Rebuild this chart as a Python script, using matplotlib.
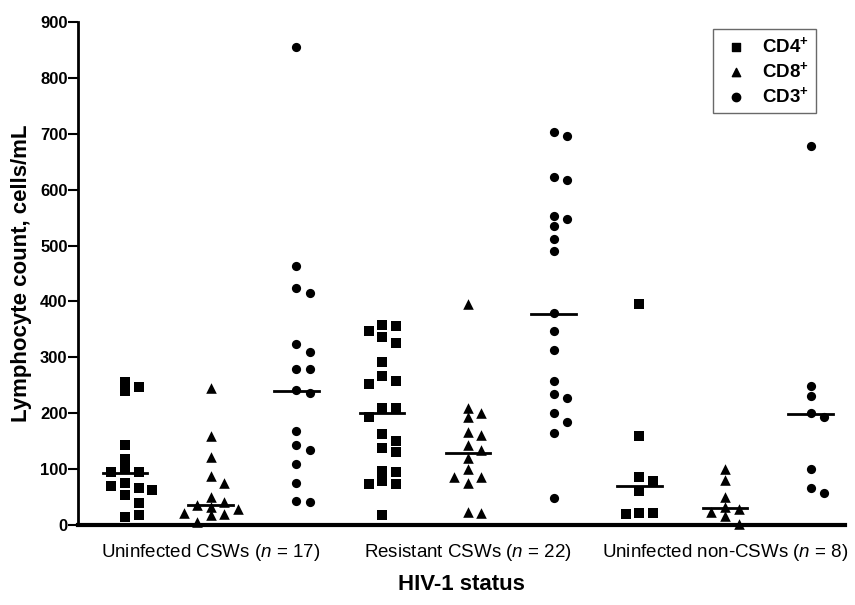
import numpy as np
import matplotlib
matplotlib.use("Agg")
import matplotlib.pyplot as plt

plt.rcParams['font.family'] = ['Liberation Sans', 'DejaVu Sans']
plt.rcParams['mathtext.fontset'] = 'custom'
plt.rcParams['mathtext.rm'] = 'Liberation Sans'
plt.rcParams['mathtext.it'] = 'Liberation Sans:italic'
plt.rcParams['mathtext.bf'] = 'Liberation Sans:bold'

# --------------------------------
# Data
# --------------------------------
groups = ["Uninfected CSWs ($\\it{n}$ = 17)",
          "Resistant CSWs ($\\it{n}$ = 22)",
          "Uninfected non-CSWs ($\\it{n}$ = 8)"]
cell_types = ["CD4", "CD8", "CD3"]

uninf_cd4 = [256, 240, 247, 144, 118, 100, 94, 94, 76, 67, 70, 63, 54, 39, 15, 18]
uninf_cd8 = [245, 159, 122, 88, 75, 50, 42, 33, 35, 29, 20, 21, 17, 5]
uninf_cd3 = [856, 464, 424, 416, 323, 310, 279, 279, 241, 237, 168, 144, 134,
             109, 75, 43, 41]

resist_cd4 = [358, 356, 348, 337, 326, 291, 267, 258, 252, 209, 209, 194, 162,
              150, 137, 130, 97, 94, 78, 73, 73, 18]
resist_cd8 = [395, 209, 200, 193, 167, 161, 143, 134, 119, 101, 86, 86, 76, 23, 21]
resist_cd3 = [703, 696, 623, 617, 552, 548, 535, 511, 491, 379, 348, 314, 258,
              234, 227, 200, 185, 165, 49]

noncsw_cd4 = [395, 160, 86, 79, 60, 21, 21, 19]
noncsw_cd8 = [101, 80, 50, 32, 29, 24, 16, 1]
noncsw_cd3 = [679, 249, 231, 201, 193, 101, 67, 58]

medians = [93, 36, 240, 201, 128, 378, 70, 31, 199]

series = [uninf_cd4, uninf_cd8, uninf_cd3,
          resist_cd4, resist_cd8, resist_cd3,
          noncsw_cd4, noncsw_cd8, noncsw_cd3]
markers = ['s', '^', 'o'] * 3


def swarm(values, gap=16.0, step=0.158):
    # greedy column placement: centre, right, left, ...
    slots = [0, 1, -1, 2, -2]
    placed = []
    offs = []
    for v in values:
        for s in slots:
            if all(not (ps == s and abs(pv - v) < gap) for pv, ps in placed):
                break
        placed.append((v, s))
        offs.append(s * step)
    return np.array(offs)


fig = plt.figure(figsize=(8.55, 6.05), dpi=100)
ax = fig.add_axes([78 / 855, 1 - 525 / 605, 767 / 855, 503 / 605])

for i, (vals, mk) in enumerate(zip(series, markers)):
    x = i + swarm(vals)
    size = {'o': 44, 's': 46, '^': 58}[mk]
    ax.scatter(x, vals, marker=mk, s=size, color='black', linewidths=0,
               zorder=3, clip_on=False)
    ax.plot([i - 0.26, i + 0.26], [medians[i], medians[i]],
            color='black', linewidth=2, zorder=4)

# legend handles
for mk, name in zip(['s', '^', 'o'], cell_types):
    ax.scatter([], [], marker=mk, s=36, color='black',
               label=name + '$^{\\mathbf{+}}$')

leg = ax.legend(loc='upper right', bbox_to_anchor=(0.975, 1.005),
                prop={'weight': 'bold', 'size': 13.5},
                frameon=True, fancybox=False, handletextpad=0.6,
                borderpad=0.4, labelspacing=0.25, handlelength=1.6)
leg.get_frame().set_edgecolor('#444444')
leg.get_frame().set_linewidth(1.0)

ax.set_xlim(-0.548, 8.40)
ax.set_ylim(0, 900)
ax.set_yticks(np.arange(0, 901, 100))
ax.set_xticks([1, 4, 7])
ax.set_xticklabels(groups, fontsize=13.5)
ax.tick_params(axis='x', length=0, pad=12)
ax.tick_params(axis='y', length=7, width=1.5, labelsize=12, pad=0.5)
for lab in ax.get_yticklabels():
    lab.set_fontweight('bold')

ax.spines['top'].set_visible(False)
ax.spines['right'].set_visible(False)
ax.spines['left'].set_linewidth(2)
ax.spines['bottom'].set_linewidth(3)

ax.set_ylabel("Lymphocyte count, cells/mL", fontsize=16, fontweight='bold',
              labelpad=6)
ax.set_xlabel("HIV-1 status", fontsize=16, fontweight='bold', labelpad=8)

fig.savefig("out.png", dpi=100)
